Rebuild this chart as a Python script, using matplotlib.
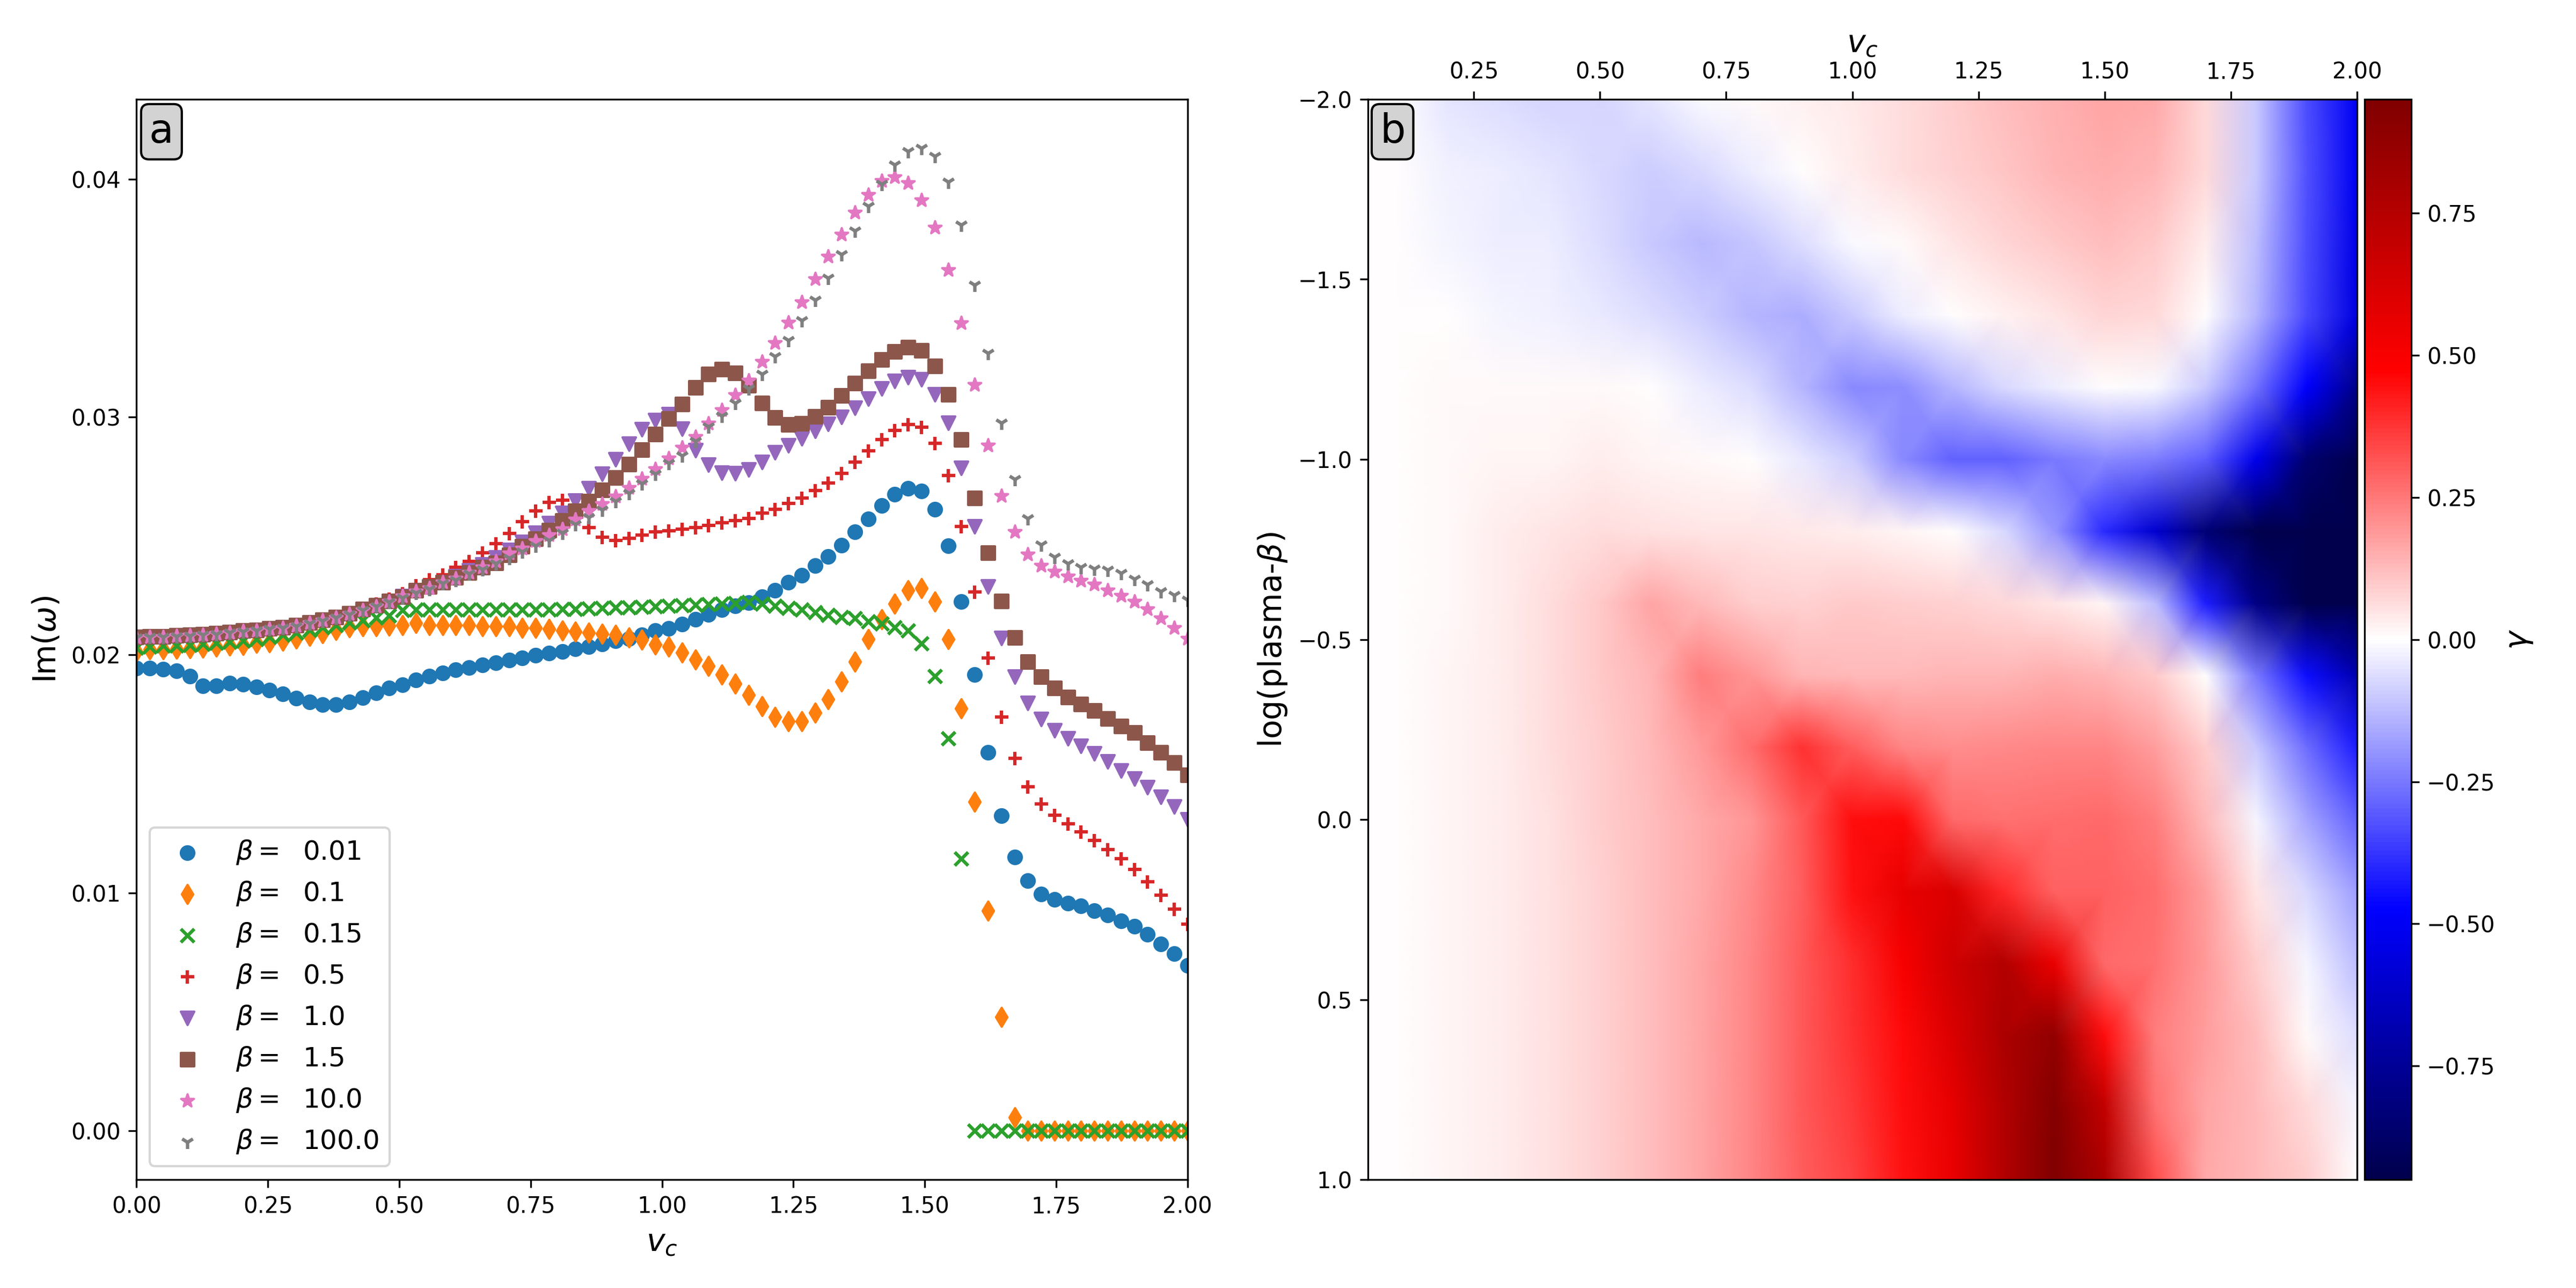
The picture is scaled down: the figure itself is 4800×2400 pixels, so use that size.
import numpy as np
import matplotlib
matplotlib.use('Agg')
import matplotlib.pyplot as plt

# ---- panel a: Im(omega) vs v_c for several plasma beta ----
vc = np.linspace(0, 2, 80)
betas = [0.01, 0.1, 0.15, 0.5, 1.0, 1.5, 10.0, 100.0]
markers = ['o', 'd', 'x', '+', 'v', 's', '*', '1']

im_b001 = [0.01944, 0.01944, 0.01940, 0.01932, 0.01910, 0.01869, 0.01869, 0.01880, 0.01876, 0.01865,
           0.01851, 0.01835, 0.01818, 0.01801, 0.01790, 0.01790, 0.01801, 0.01820, 0.01840, 0.01861,
           0.01875, 0.01894, 0.01910, 0.01923, 0.01937, 0.01946, 0.01957, 0.01966, 0.01978, 0.01987,
           0.01998, 0.02007, 0.02014, 0.02025, 0.02034, 0.02045, 0.02059, 0.02068, 0.02083, 0.02102,
           0.02112, 0.02130, 0.02150, 0.02170, 0.02190, 0.02205, 0.02220, 0.02245, 0.02272, 0.02304,
           0.02335, 0.02375, 0.02414, 0.02461, 0.02517, 0.02572, 0.02628, 0.02675, 0.02700, 0.02689,
           0.02612, 0.02459, 0.02224, 0.01916, 0.01589, 0.01323, 0.01150, 0.01050, 0.00994, 0.00972,
           0.00957, 0.00944, 0.00925, 0.00907, 0.00882, 0.00860, 0.00826, 0.00785, 0.00744, 0.00695]
im_b01 = [0.02015, 0.02023, 0.02023, 0.02026, 0.02028, 0.02030, 0.02034, 0.02038, 0.02040, 0.02049,
          0.02053, 0.02059, 0.02068, 0.02079, 0.02090, 0.02105, 0.02116, 0.02120, 0.02120, 0.02122,
          0.02124, 0.02134, 0.02124, 0.02124, 0.02124, 0.02124, 0.02119, 0.02119, 0.02119, 0.02114,
          0.02114, 0.02108, 0.02103, 0.02098, 0.02093, 0.02088, 0.02083, 0.02073, 0.02063, 0.02043,
          0.02034, 0.02009, 0.01981, 0.01953, 0.01916, 0.01879, 0.01832, 0.01785, 0.01738, 0.01720,
          0.01720, 0.01757, 0.01813, 0.01888, 0.01972, 0.02065, 0.02150, 0.02215, 0.02271, 0.02280,
          0.02224, 0.02065, 0.01776, 0.01383, 0.00925, 0.00477, 0.00056, 0.0, 0.0, 0.0,
          0.0, 0.0, 0.0, 0.0, 0.0, 0.0, 0.0, 0.0, 0.0, 0.0]
im_b015 = [0.02030, 0.02034, 0.02038, 0.02038, 0.02041, 0.02045, 0.02049, 0.02054, 0.02060, 0.02066,
           0.02075, 0.02083, 0.02094, 0.02105, 0.02115, 0.02125, 0.02135, 0.02145, 0.02155, 0.02165,
           0.02188, 0.02190, 0.02190, 0.02190, 0.02190, 0.02190, 0.02190, 0.02190, 0.02190, 0.02190,
           0.02190, 0.02190, 0.02192, 0.02193, 0.02195, 0.02197, 0.02199, 0.02200, 0.02202, 0.02204,
           0.02206, 0.02208, 0.02210, 0.02212, 0.02214, 0.02218, 0.02222, 0.02215, 0.02206, 0.02196,
           0.02191, 0.02178, 0.02168, 0.02159, 0.02153, 0.02140, 0.02131, 0.02116, 0.02103, 0.02047,
           0.01910, 0.01649, 0.01144, 0.0, 0.0, 0.0, 0.0, 0.0, 0.0, 0.0,
           0.0, 0.0, 0.0, 0.0, 0.0, 0.0, 0.0, 0.0, 0.0, 0.0]
im_b05 = [0.02075, 0.02077, 0.02078, 0.02081, 0.02083, 0.02086, 0.02090, 0.02095, 0.02101, 0.02105,
          0.02111, 0.02116, 0.02124, 0.02135, 0.02146, 0.02159, 0.02173, 0.02197, 0.02214, 0.02235,
          0.02258, 0.02291, 0.02316, 0.02336, 0.02367, 0.02392, 0.02428, 0.02467, 0.02510, 0.02559,
          0.02606, 0.02640, 0.02649, 0.02590, 0.02534, 0.02494, 0.02482, 0.02489, 0.02503, 0.02516,
          0.02522, 0.02528, 0.02535, 0.02545, 0.02555, 0.02565, 0.02574, 0.02596, 0.02612, 0.02637,
          0.02660, 0.02691, 0.02723, 0.02763, 0.02810, 0.02857, 0.02905, 0.02944, 0.02968, 0.02957,
          0.02889, 0.02754, 0.02540, 0.02265, 0.01988, 0.01738, 0.01564, 0.01445, 0.01374, 0.01327,
          0.01290, 0.01256, 0.01219, 0.01181, 0.01144, 0.01099, 0.01047, 0.00991, 0.00931, 0.00869]
im_b1 = [0.02075, 0.02077, 0.02078, 0.02081, 0.02083, 0.02086, 0.02090, 0.02095, 0.02101, 0.02105,
         0.02111, 0.02116, 0.02124, 0.02135, 0.02146, 0.02159, 0.02173, 0.02192, 0.02207, 0.02225,
         0.02246, 0.02266, 0.02286, 0.02306, 0.02329, 0.02354, 0.02379, 0.02408, 0.02440, 0.02474,
         0.02512, 0.02552, 0.02597, 0.02647, 0.02699, 0.02760, 0.02822, 0.02888, 0.02947, 0.02987,
         0.03010, 0.02950, 0.02860, 0.02800, 0.02765, 0.02762, 0.02778, 0.02810, 0.02850, 0.02880,
         0.02910, 0.02940, 0.02970, 0.03000, 0.03037, 0.03076, 0.03119, 0.03150, 0.03167, 0.03158,
         0.03095, 0.02975, 0.02786, 0.02540, 0.02288, 0.02070, 0.01907, 0.01798, 0.01729, 0.01682,
         0.01649, 0.01617, 0.01585, 0.01551, 0.01514, 0.01480, 0.01443, 0.01402, 0.01361, 0.01308]
im_b15 = [0.02075, 0.02077, 0.02078, 0.02081, 0.02083, 0.02086, 0.02090, 0.02095, 0.02101, 0.02105,
          0.02111, 0.02116, 0.02124, 0.02135, 0.02146, 0.02159, 0.02173, 0.02192, 0.02207, 0.02225,
          0.02244, 0.02271, 0.02286, 0.02306, 0.02326, 0.02346, 0.02367, 0.02387, 0.02420, 0.02455,
          0.02487, 0.02523, 0.02564, 0.02604, 0.02645, 0.02694, 0.02745, 0.02802, 0.02861, 0.02928,
          0.02994, 0.03054, 0.03124, 0.03180, 0.03201, 0.03185, 0.03132, 0.03059, 0.02998, 0.02968,
          0.02972, 0.03002, 0.03040, 0.03090, 0.03142, 0.03194, 0.03241, 0.03275, 0.03293, 0.03279,
          0.03214, 0.03094, 0.02905, 0.02660, 0.02430, 0.02226, 0.02072, 0.01972, 0.01907, 0.01860,
          0.01822, 0.01794, 0.01766, 0.01733, 0.01701, 0.01673, 0.01630, 0.01589, 0.01546, 0.01495]
im_b10 = [0.02073, 0.02075, 0.02076, 0.02079, 0.02081, 0.02084, 0.02088, 0.02093, 0.02099, 0.02103,
          0.02109, 0.02114, 0.02122, 0.02133, 0.02144, 0.02157, 0.02171, 0.02188, 0.02204, 0.02224,
          0.02246, 0.02266, 0.02281, 0.02306, 0.02321, 0.02346, 0.02367, 0.02392, 0.02427, 0.02447,
          0.02478, 0.02503, 0.02528, 0.02569, 0.02604, 0.02635, 0.02665, 0.02701, 0.02741, 0.02781,
          0.02827, 0.02870, 0.02916, 0.02972, 0.03029, 0.03093, 0.03154, 0.03232, 0.03311, 0.03396,
          0.03483, 0.03579, 0.03674, 0.03767, 0.03858, 0.03934, 0.03992, 0.04008, 0.03982, 0.03912,
          0.03795, 0.03617, 0.03395, 0.03134, 0.02880, 0.02668, 0.02517, 0.02422, 0.02375, 0.02351,
          0.02330, 0.02312, 0.02296, 0.02272, 0.02249, 0.02224, 0.02193, 0.02153, 0.02114, 0.02067]
im_b100 = [0.02072, 0.02074, 0.02075, 0.02078, 0.02080, 0.02083, 0.02087, 0.02092, 0.02098, 0.02102,
           0.02108, 0.02113, 0.02121, 0.02132, 0.02143, 0.02156, 0.02170, 0.02187, 0.02203, 0.02222,
           0.02240, 0.02260, 0.02276, 0.02300, 0.02315, 0.02340, 0.02360, 0.02385, 0.02407, 0.02433,
           0.02458, 0.02482, 0.02513, 0.02548, 0.02579, 0.02609, 0.02645, 0.02680, 0.02720, 0.02761,
           0.02806, 0.02838, 0.02898, 0.02959, 0.03005, 0.03059, 0.03119, 0.03180, 0.03254, 0.03322,
           0.03405, 0.03492, 0.03583, 0.03683, 0.03782, 0.03886, 0.03978, 0.04059, 0.04116, 0.04129,
           0.04095, 0.03988, 0.03807, 0.03554, 0.03268, 0.02975, 0.02738, 0.02573, 0.02462, 0.02410,
           0.02383, 0.02367, 0.02362, 0.02356, 0.02343, 0.02319, 0.02296, 0.02267, 0.02250, 0.02230]

series = [im_b001, im_b01, im_b015, im_b05, im_b1, im_b15, im_b10, im_b100]

# ---- panel b: growth rate map gamma(v_c, log beta) ----
vc_nodes = [0.04, 0.1, 0.2, 0.3, 0.4, 0.5, 0.6, 0.7, 0.8, 0.9, 1.0,
            1.1, 1.2, 1.3, 1.4, 1.5, 1.6, 1.7, 1.8, 1.9, 2.0]
logb_nodes = [-2.0, -1.8, -1.6, -1.4, -1.2, -1.0, -0.8, -0.6,
              -0.4, -0.2, 0.0, 0.2, 0.4, 0.6, 0.8, 1.0]
gamma = [
    [0.0, -0.005, -0.045, -0.06, -0.08, -0.08, -0.05, -0.01, 0.01, 0.025, 0.04, 0.065, 0.09, 0.12, 0.145, 0.165, 0.16, 0.07, -0.10, -0.33, -0.50],
    [0.0, 0.0, -0.025, -0.035, -0.05, -0.07, -0.095, -0.07, -0.03, 0.0, 0.03, 0.06, 0.085, 0.11, 0.135, 0.15, 0.14, 0.07, -0.10, -0.32, -0.50],
    [0.0, 0.0, -0.02, -0.03, -0.03, -0.06, -0.10, -0.13, -0.11, -0.06, -0.01, 0.01, 0.045, 0.08, 0.10, 0.12, 0.10, 0.03, -0.12, -0.33, -0.53],
    [0.0, 0.005, 0.0, -0.02, -0.025, -0.04, -0.06, -0.09, -0.14, -0.15, -0.10, -0.03, 0.0, 0.025, 0.05, 0.08, 0.07, 0.0, -0.14, -0.34, -0.55],
    [0.0, 0.005, 0.01, 0.01, 0.01, 0.01, 0.0, -0.03, -0.06, -0.14, -0.22, -0.21, -0.14, -0.07, -0.03, 0.0, -0.01, -0.10, -0.26, -0.48, -0.78],
    [0.0, 0.005, 0.01, 0.015, 0.02, 0.03, 0.02, 0.01, 0.005, -0.04, -0.09, -0.22, -0.29, -0.29, -0.25, -0.22, -0.24, -0.30, -0.52, -0.86, -0.95],
    [0.0, 0.005, 0.01, 0.03, 0.045, 0.06, 0.055, 0.05, 0.045, 0.04, 0.03, 0.02, 0.005, -0.07, -0.20, -0.40, -0.60, -0.84, -0.95, -0.95, -0.95],
    [0.0, 0.005, 0.012, 0.03, 0.06, 0.10, 0.17, 0.13, 0.09, 0.085, 0.10, 0.095, 0.085, 0.07, 0.045, 0.02, -0.12, -0.42, -0.80, -0.95, -0.95],
    [0.0, 0.005, 0.015, 0.03, 0.065, 0.10, 0.14, 0.24, 0.20, 0.14, 0.13, 0.13, 0.135, 0.14, 0.15, 0.14, 0.10, 0.0, -0.25, -0.45, -0.68],
    [0.0, 0.005, 0.015, 0.03, 0.06, 0.09, 0.13, 0.19, 0.27, 0.38, 0.30, 0.23, 0.21, 0.22, 0.23, 0.23, 0.18, 0.09, -0.10, -0.27, -0.42],
    [0.0, 0.005, 0.015, 0.03, 0.055, 0.09, 0.12, 0.16, 0.20, 0.31, 0.45, 0.46, 0.28, 0.26, 0.27, 0.28, 0.24, 0.13, -0.02, -0.17, -0.29],
    [0.0, 0.005, 0.015, 0.03, 0.055, 0.085, 0.12, 0.16, 0.22, 0.30, 0.44, 0.56, 0.61, 0.40, 0.29, 0.29, 0.27, 0.18, 0.05, -0.07, -0.18],
    [0.0, 0.005, 0.015, 0.03, 0.055, 0.085, 0.12, 0.17, 0.23, 0.31, 0.39, 0.50, 0.66, 0.75, 0.55, 0.28, 0.26, 0.19, 0.095, -0.02, -0.12],
    [0.0, 0.005, 0.015, 0.03, 0.055, 0.085, 0.12, 0.17, 0.23, 0.31, 0.38, 0.46, 0.61, 0.78, 0.88, 0.45, 0.24, 0.18, 0.12, 0.01, -0.06],
    [0.0, 0.005, 0.015, 0.03, 0.055, 0.085, 0.12, 0.17, 0.23, 0.31, 0.37, 0.45, 0.57, 0.76, 0.93, 0.70, 0.26, 0.17, 0.13, 0.07, -0.02],
    [0.0, 0.005, 0.015, 0.03, 0.055, 0.085, 0.12, 0.17, 0.23, 0.30, 0.35, 0.44, 0.55, 0.75, 0.945, 0.78, 0.33, 0.16, 0.13, 0.09, 0.0],
]

fig = plt.figure(figsize=(16, 8), dpi=300)
ax1 = fig.add_axes([0.053, 0.084, 0.408, 0.839])
ax2 = fig.add_axes([0.531, 0.084, 0.384, 0.839])
cax = fig.add_axes([0.918, 0.084, 0.018, 0.839])

for i, (b, vals) in enumerate(zip(betas, series)):
    ax1.scatter(vc, vals, marker=markers[i], color=f'C{i}', label=rf'$\beta =$  {b}')
ax1.set_xlim(0, 2)
ax1.set_xlabel(r'$v_c$', fontsize=14)
ax1.set_ylabel(r'Im($\omega$)', fontsize=14)
ax1.legend(loc='lower left', fontsize=12)
ax1.text(0.012, 0.988, 'a', transform=ax1.transAxes, fontsize=18, ha='left', va='top',
         bbox=dict(boxstyle='round,pad=0.2', facecolor='lightgray', edgecolor='black'))

X, Y = np.meshgrid(vc_nodes, logb_nodes)
mesh = ax2.pcolormesh(X, Y, np.array(gamma), cmap='seismic', vmin=-0.95, vmax=0.95,
                      shading='gouraud')
ax2.set_xlim(0.04, 2.0)
ax2.set_ylim(1.0, -2.0)
ax2.xaxis.tick_top()
ax2.xaxis.set_label_position('top')
ax2.set_xlabel(r'$v_c$', fontsize=14)
ax2.set_ylabel(r'log(plasma-$\beta$)', fontsize=14)
ax2.text(0.012, 0.988, 'b', transform=ax2.transAxes, fontsize=18, ha='left', va='top',
         bbox=dict(boxstyle='round,pad=0.2', facecolor='lightgray', edgecolor='black'))

cb = fig.colorbar(mesh, cax=cax)
cb.set_label(r'$\gamma$', fontsize=14)

fig.savefig('out.png', dpi=300)
